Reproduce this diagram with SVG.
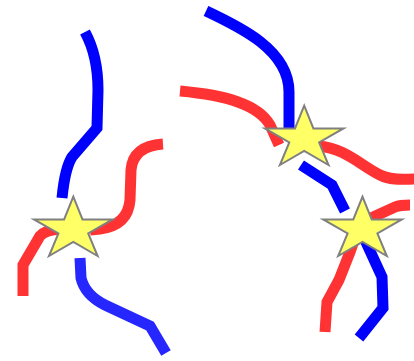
<svg xmlns="http://www.w3.org/2000/svg" xmlns:xlink="http://www.w3.org/1999/xlink" width="414" height="361" viewBox="0 0 414 361">
<style>
.ln{fill:none;stroke-width:11;stroke-linecap:butt;stroke-linejoin:miter}
.b{stroke:#0000ff}
.b2{stroke:#2626ff}
.r{stroke:#ff3333}
.star{fill:#ffff66;stroke:#808080;stroke-width:2;stroke-linejoin:miter}
</style>
<defs>
<path id="starShape" d="M0,-32.8 L9.2,-10.1 L39.3,-10.1 L14.9,3.9 L24.3,26.5 L0,12.5 L-24.3,26.5 L-14.9,3.9 L-39.3,-10.1 L-9.2,-10.1 Z"/>
</defs>
<rect width="414" height="361" fill="#ffffff"/>
<g id="connectors">
<path class="ln b" d="M85,32 Q98,56 98,90 L97,128 L72,157 Q65,168 62,198"/>
<path class="ln b2" d="M80,258 L81,278 Q85,295 105,305 L150,326 L166,353"/>
<path class="ln r" d="M23,296 L23,265 L40,236 Q45,230 60,229 L75,229"/>
<path class="ln r" d="M90,230 L100,229 Q128,225 130,200 L131,170 Q133,146 163,144"/>
<path class="ln b" d="M206,11 C240,27 289,50 289,92 L289,135"/>
<path class="ln r" d="M180,91 C225,95 258,104 270,125 L279,145"/>
<path class="ln r" d="M318,146 C345,148 360,165 380,175 C392,181 405,179 414,179"/>
<path class="ln b" d="M301,165 L332,185 L345,211"/>
<path class="ln r" d="M360,223 L395,207 Q400,205 410,205"/>
<path class="ln r" d="M356,235 L350,252 L339,280 L327,302 L325,332"/>
<path class="ln b" d="M365,240 L382,277 L383,308 L359,338"/>
</g>
<g id="star1"><use xlink:href="#starShape" class="star" transform="translate(73.3,229.5) scale(1,1)"/></g>
<g id="star2"><use xlink:href="#starShape" class="star" transform="translate(304.2,138.5)"/></g>
<g id="star3"><use xlink:href="#starShape" class="star" transform="translate(362.5,229.5)"/></g>
</svg>
